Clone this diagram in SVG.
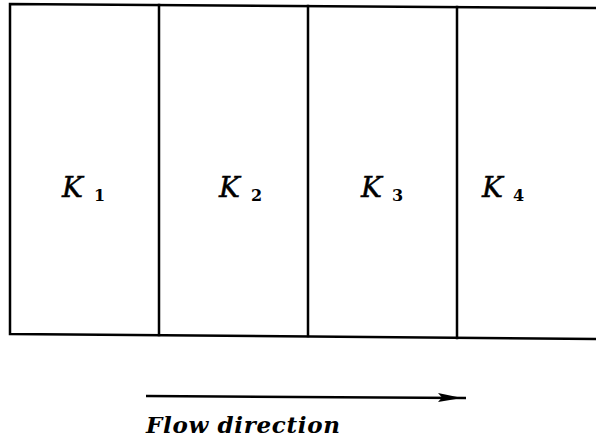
<svg xmlns="http://www.w3.org/2000/svg" width="596" height="442" viewBox="0 0 596 442">
<style>
.ln{stroke:#000;stroke-width:2.5;fill:none;stroke-linecap:square}
.lbl{font-family:"DejaVu Serif","Liberation Serif",serif;font-style:italic;font-size:28px;fill:#000;stroke:#000;stroke-width:0.5}
.sub{font-family:"DejaVu Serif","Liberation Serif",serif;font-weight:bold;font-size:16px;fill:#000}
.cap{font-family:"DejaVu Serif","Liberation Serif",serif;font-style:italic;font-weight:bold;font-size:23px;fill:#000}
</style>
<rect width="596" height="442" fill="#fff"/>
<g id="frame">
<path class="ln" d="M596,8 L10,4 L10,334 L596,339"/>
</g>
<g id="K1"><text class="lbl" x="62" y="197">K</text><text class="sub" x="94" y="201">1</text></g>
<g id="K2"><line class="ln" x1="159" y1="5" x2="159" y2="335"/><text class="lbl" x="219" y="197">K</text><text class="sub" x="251" y="201">2</text></g>
<g id="K3"><line class="ln" x1="308" y1="6" x2="308" y2="336"/><text class="lbl" x="361" y="197">K</text><text class="sub" x="392" y="201">3</text></g>
<g id="K4"><line class="ln" x1="457" y1="7" x2="457" y2="338"/><text class="lbl" x="482" y="197">K</text><text class="sub" x="513" y="201">4</text></g>
<g id="connectors">
<line x1="146" y1="396" x2="466" y2="398" stroke="#000" stroke-width="2.5"/>
<polygon points="438,393 462,398 438,402 442,397.5" fill="#000"/>
</g>
<text class="cap" x="146" y="433" textLength="194">Flow direction</text>
</svg>
